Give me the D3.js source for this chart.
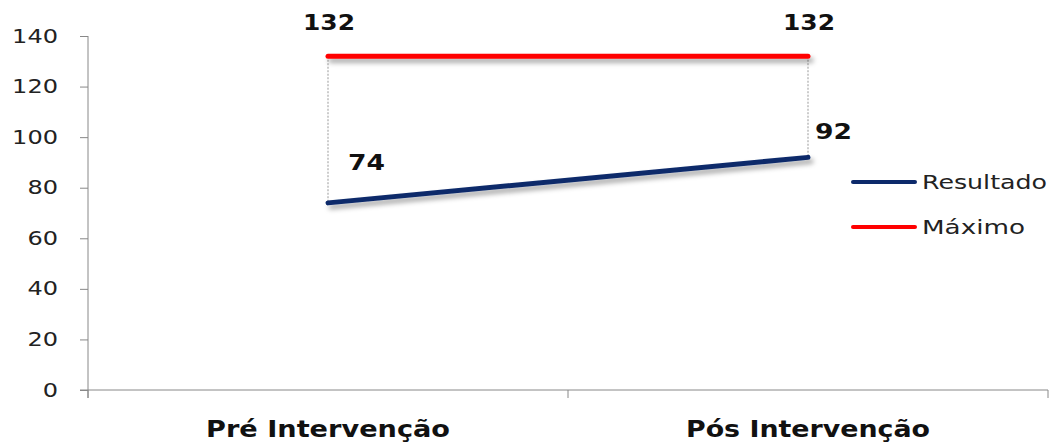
<!DOCTYPE html>
<html><head><meta charset="utf-8">
<script src="https://cdn.jsdelivr.net/npm/d3@7"></script>
<style>body{margin:0;background:#fff}svg{display:block}</style>
</head><body>
<svg id="c" width="1054" height="442"></svg>
<script>
const categories = ["Pré Intervenção", "Pós Intervenção"];
const resultado = [74, 92];
const maximo = [132, 132];
const yTicks = [0, 20, 40, 60, 80, 100, 120, 140];
const seriesNames = ["Resultado", "Máximo"];
const seriesColors = ["#0d2a6b", "#ff0000"];

const svg = d3.select("#c");
const W = 1054, H = 442;
const m = {left: 88, right: 6, top: 36, bottom: 52};
const x = d3.scaleBand().domain(categories).range([m.left, W - m.right]);
const y = d3.scaleLinear().domain([0, 140]).range([H - m.bottom, m.top]);
const cx = c => x(c) + x.bandwidth() / 2;

const defs = svg.append("defs");
const f = defs.append("filter").attr("id", "sh").attr("filterUnits", "userSpaceOnUse")
  .attr("x", 0).attr("y", 0).attr("width", W).attr("height", H);
f.append("feDropShadow").attr("dx", 3).attr("dy", 4).attr("stdDeviation", 2.5).attr("flood-color", "#000").attr("flood-opacity", 0.35);

const font = "'DejaVu Sans', sans-serif";

// Y axis
const ya = svg.append("g").attr("transform", `translate(${m.left},0)`)
  .call(d3.axisLeft(y).tickValues(yTicks).tickSize(8).tickPadding(22));
ya.select(".domain").attr("stroke", "#888").attr("d", `M-0,${y(140)}V${y(0) + 8}`);
ya.selectAll(".tick line").attr("stroke", "#888");
ya.selectAll("text").attr("font-family", font).attr("font-size", 19).attr("fill", "#222")
  .attr("textLength", d => String(d).length * 15.3).attr("lengthAdjust", "spacingAndGlyphs");

// X axis
const xa = svg.append("g").attr("transform", `translate(0,${y(0)})`);
xa.append("line").attr("x1", m.left - 8).attr("x2", W - m.right).attr("stroke", "#888");
const bounds = [m.left, ...categories.map(c => x(c) + x.bandwidth())];
xa.selectAll(".xt").data(bounds).join("line").attr("x1", d => d).attr("x2", d => d)
  .attr("y1", 0).attr("y2", 8).attr("stroke", "#888");
xa.selectAll(".xl").data(categories).join("text")
  .attr("x", d => cx(d)).attr("y", 47).attr("text-anchor", "middle")
  .attr("font-family", font).attr("font-weight", "bold").attr("font-size", 23).attr("fill", "#111")
  .attr("textLength", 244).attr("lengthAdjust", "spacingAndGlyphs").text(d => d);

// drop lines
svg.selectAll(".drop").data(categories).join("line")
  .attr("x1", d => cx(d)).attr("x2", d => cx(d))
  .attr("y1", (d, i) => y(maximo[i])).attr("y2", (d, i) => y(resultado[i]))
  .attr("stroke", "#999").attr("stroke-width", 1).attr("stroke-dasharray", "2,1.5");

const line = d3.line().x((d, i) => cx(categories[i])).y(d => y(d));
[resultado, maximo].forEach((s, k) => {
  svg.append("path").datum(s).attr("d", line).attr("fill", "none")
    .attr("stroke", seriesColors[k]).attr("stroke-width", 5).attr("stroke-linecap", "round")
    .attr("filter", "url(#sh)");
});

// data labels
const lbl = (txt, px, py, w) => svg.append("text").attr("x", px).attr("y", py)
  .attr("font-family", font).attr("font-weight", "bold").attr("font-size", 22).attr("fill", "#111")
  .attr("textLength", w).attr("lengthAdjust", "spacingAndGlyphs").text(txt);
categories.forEach((c, i) => {
  lbl(String(maximo[i]), cx(c) - 25, y(maximo[i]) - 26, 52);
});
lbl(String(resultado[0]), cx(categories[0]) + 20, y(resultado[0]) - 33, 37);
lbl(String(resultado[1]), cx(categories[1]) + 7, y(resultado[1]) - 18, 37);

// legend
const legendWidths = [125, 103];
seriesNames.forEach((n, k) => {
  const ly = 182 + k * 45;
  svg.append("line").attr("x1", 853).attr("x2", 915).attr("y1", ly).attr("y2", ly)
    .attr("stroke", seriesColors[k]).attr("stroke-width", 4).attr("stroke-linecap", "round");
  svg.append("text").attr("x", 922).attr("y", ly + 7).attr("font-family", font).attr("font-size", 19)
    .attr("fill", "#222").attr("textLength", legendWidths[k]).attr("lengthAdjust", "spacingAndGlyphs").text(n);
});
</script>
</body></html>
